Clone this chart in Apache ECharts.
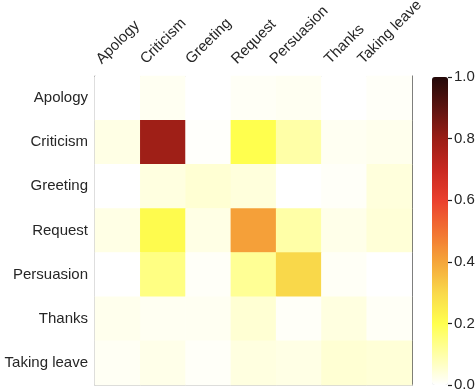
<!DOCTYPE html>
<html>
<head>
<meta charset="utf-8">
<script src="https://cdn.jsdelivr.net/npm/echarts@6/dist/echarts.min.js"></script>
<style>
  html, body { margin: 0; padding: 0; background: #fff; }
  #chart { width: 476px; height: 392px; }
</style>
</head>
<body>
<div id="chart"></div>
<script>
const categories = ['Apology', 'Criticism', 'Greeting', 'Request', 'Persuasion', 'Thanks', 'Taking leave'];

// one row per true class (top to bottom), one value per predicted class (left to right)
const rowApology     = [0.00, 0.015, 0.00, 0.01, 0.015, 0.00, 0.008];
const rowCriticism   = [0.03, 0.79, 0.005, 0.20, 0.10, 0.015, 0.02];
const rowGreeting    = [0.00, 0.035, 0.05, 0.04, 0.00, 0.008, 0.04];
const rowRequest     = [0.03, 0.21, 0.03, 0.41, 0.10, 0.025, 0.045];
const rowPersuasion  = [0.00, 0.14, 0.008, 0.12, 0.30, 0.01, 0.00];
const rowThanks      = [0.02, 0.015, 0.015, 0.05, 0.008, 0.035, 0.01];
const rowTakingLeave = [0.012, 0.025, 0.008, 0.035, 0.03, 0.05, 0.045];
const rows = [rowApology, rowCriticism, rowGreeting, rowRequest, rowPersuasion, rowThanks, rowTakingLeave];

const colorTicks = [0, 0.2, 0.4, 0.6, 0.8, 1.0];

const heatData = [];
rows.forEach((row, y) => row.forEach((v, x) => heatData.push([x, y, v])));

const FONT = '"Liberation Sans", Arial, sans-serif';
const textColor = '#262626';

// top labels: rotated 45deg and centred over their column (matplotlib style),
// so each label gets its own padding depending on its width
const ctx = document.createElement('canvas').getContext('2d');
ctx.font = '15px ' + FONT;
const textH = 16;
const topRich = {};
categories.forEach((c, i) => {
  const L = ctx.measureText(c).width;
  topRich['t' + i] = {
    fontSize: 15, fontFamily: FONT, color: textColor,
    padding: [0, 0, 0.25 * (L - textH), 0.5 * (L + textH)]
  };
});

const chart = echarts.init(document.getElementById('chart'));

chart.setOption({
  animation: false,
  grid: [
    { left: 95, top: 76, width: 317, height: 309, outerBoundsMode: 'none' },
    // thin grid just right of the colour bar, only used for its tick axis
    { left: 448, top: 77, width: 20, height: 308, outerBoundsMode: 'none' }
  ],
  xAxis: [
    {
      type: 'category', data: categories, gridIndex: 0, position: 'top',
      axisLine: { lineStyle: { color: '#555', width: 1 } },
      axisTick: { show: false },
      splitLine: { show: false },
      axisLabel: {
        interval: 0, rotate: -45, margin: 9, overflow: 'none',
        align: 'center', verticalAlign: 'bottom',
        formatter: (v, i) => '{t' + i + '|' + v + '}',
        rich: topRich
      }
    },
    {
      type: 'category', data: categories, gridIndex: 0, position: 'bottom',
      axisLine: { lineStyle: { color: '#c4c4c4', width: 1.5 } },
      axisTick: { show: false }, axisLabel: { show: false }
    },
    { type: 'value', gridIndex: 1, show: false, min: 0, max: 1 }
  ],
  yAxis: [
    {
      type: 'category', data: categories, gridIndex: 0, inverse: true,
      axisLine: { lineStyle: { color: '#c4c4c4', width: 1.5 } },
      axisTick: { show: false },
      splitLine: { show: false },
      axisLabel: { interval: 0, margin: 7, fontSize: 15, fontFamily: FONT, color: textColor }
    },
    {
      type: 'category', data: categories, gridIndex: 0, inverse: true, position: 'right',
      axisLine: { lineStyle: { color: '#555', width: 1 } },
      axisTick: { show: false }, axisLabel: { show: false }
    },
    {
      type: 'value', gridIndex: 1, position: 'left', min: 0, max: 1, interval: 0.2,
      axisLine: { show: false },
      axisTick: { show: true, inside: true, length: 4, lineStyle: { color: '#222', width: 1.2 } },
      splitLine: { show: false },
      axisLabel: {
        inside: true, margin: 6, fontSize: 15, fontFamily: FONT, color: textColor,
        formatter: v => colorTicks.includes(+v.toFixed(1)) ? v.toFixed(1) : ''
      }
    }
  ],
  visualMap: {
    type: 'continuous', seriesIndex: 0, min: 0, max: 1,
    orient: 'vertical', left: 432, top: 77, padding: 0,
    itemWidth: 16, itemHeight: 308, calculable: false, text: null,
    inRange: {
      color: ['#ffffff', '#ffffa7', '#ffff4e', '#f9d84a', '#f5a53a', '#f27232',
              '#ea402e', '#c82820', '#9a1e16', '#5c1410', '#220808']
    }
  },
  series: [
    {
      type: 'heatmap', xAxisIndex: 0, yAxisIndex: 0,
      data: heatData,
      itemStyle: { borderWidth: 0 },
      emphasis: { disabled: true }
    }
  ]
});
</script>
</body>
</html>
